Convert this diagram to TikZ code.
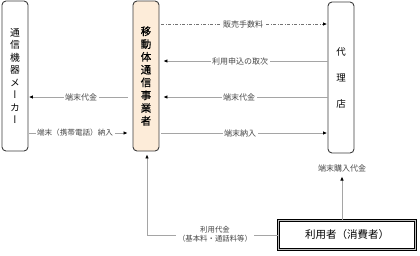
\documentclass[tikz,border=0pt]{standalone}
\usepackage{fontspec}
\setmainfont{Noto Sans CJK JP}
\newfontfamily\vertfont[RawFeature=+vert]{Noto Sans CJK JP}
\newfontfamily\medfont[FakeBold=0.5]{Noto Sans CJK JP}
\usetikzlibrary{arrows.meta}
\definecolor{peach}{RGB}{253,236,217}
\definecolor{lnc}{RGB}{165,165,165}
\definecolor{lbc}{RGB}{70,70,70}
\definecolor{bdc}{RGB}{60,60,60}
\begin{document}
\begin{tikzpicture}[x=1pt,y=-1pt,
  boxv/.style={draw=bdc,line width=0.9pt,rounded corners=4pt,minimum width=26pt,
    minimum height=150pt,inner sep=0pt,align=center},
  arr/.style={draw=lnc,line width=0.8pt,-{Latex[length=4pt,width=3.6pt,color=black]}},
  lbl/.style={font=\fontsize{8}{9}\selectfont,text=lbc,fill=white,inner sep=1.5pt,align=center}]
\useasboundingbox (0,0) rectangle (420,255);

% boxes
\node[boxv,font=\vertfont\fontsize{9.8}{12.5}\selectfont] (mkr) at (15,76)
  {通\\信\\機\\器\\メ\\ー\\カ\\ー};
\node[boxv,fill=peach,font=\medfont\fontsize{10.5}{12.8}\selectfont] (mob) at (146,76)
  {移\\動\\体\\通\\信\\事\\業\\者};
\node[boxv,minimum height=151pt,font=\fontsize{9.5}{26}\selectfont] (agt) at (341,77.5)
  {代\\理\\店};
\node[draw=black,line width=0.8pt,double=black!25,double distance=1.2pt,
  minimum width=137pt,minimum height=29pt,inner sep=0pt,
  font=\fontsize{10.5}{12}\selectfont] (usr) at (347,235) {利用者（消費者）};

% coordinates
\coordinate (buytip) at (342,176.5);
\coordinate (corner) at (147,235);

% connectors
\draw[arr,draw=black!55,dash pattern=on 3pt off 1.5pt on 1pt off 1.5pt,shorten <=2pt,shorten >=0.5pt]
  (mob.east |- 0,24) -- (agt.west |- 0,24);
\draw[arr,shorten >=4pt] (agt.west |- 0,61) -- (mob.east |- 0,61);
\draw[arr,shorten >=4pt] (agt.west |- 0,97) -- (mob.east |- 0,97);
\draw[arr,shorten <=5pt,shorten >=0.5pt] (mob.west |- 0,97) -- (mkr.east |- 0,97);
\draw[arr,shorten <=1pt,shorten >=5pt] (mkr.east |- 0,133) -- (mob.west |- 0,133);
\draw[arr,shorten <=2pt,shorten >=0.5pt] (mob.east |- 0,133) -- (agt.west |- 0,133);
\draw[arr] (usr.north -| buytip) -- (buytip);
\draw[arr,shorten >=3pt] (usr.west) -- (corner) -- (corner |- mob.south);

% labels
\node[lbl] (l1) at (243,24) {販売手数料};
\node[lbl] (l2) at (240,61) {利用申込の取次};
\node[lbl] (l3) at (239,97) {端末代金};
\node[lbl] (l4) at (81,97) {端末代金};
\node[lbl,font=\fontsize{7.6}{9}\selectfont] (l5) at (75,133) {端末（携帯電話）納入};
\node[lbl] (l6) at (240,133) {端末納入};
\node[lbl,fill=none] (l7) at (342,168) {端末購入代金};
\node[lbl,font=\fontsize{7.4}{8.5}\selectfont,inner sep=2pt] (l8) at (215,234)
  {利用代金\\（基本料・通話料等）};
\end{tikzpicture}
\end{document}
